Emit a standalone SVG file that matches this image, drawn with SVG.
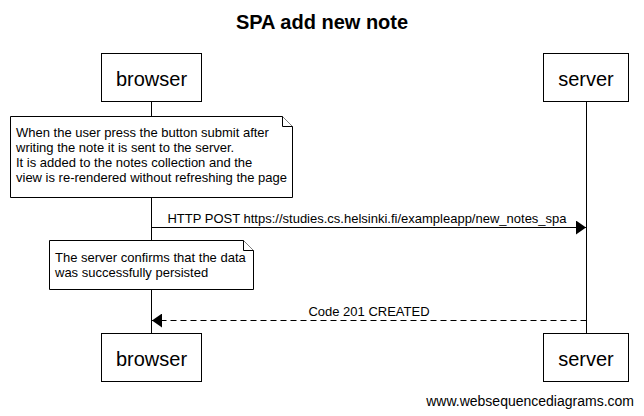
<svg xmlns="http://www.w3.org/2000/svg" width="644" height="416" viewBox="0 0 644 416">
<style>
.box{fill:#fff;stroke:#000;stroke-width:1}
.life{stroke:#000;stroke-width:1;fill:none}
.note{fill:#fff;stroke:#000;stroke-width:1}
.pt{font-family:"Liberation Sans",Arial,sans-serif;font-size:20px;text-anchor:middle;fill:#000}
.nt{font-family:"Liberation Sans",Arial,sans-serif;font-size:13px;fill:#000}
.ml{font-family:"Liberation Sans",Arial,sans-serif;font-size:13px;text-anchor:middle;fill:#000}
.msg{stroke:#000;stroke-width:1;fill:none}
.dash{stroke-dasharray:6 4}
</style>
<defs>
<marker id="ah" markerWidth="10" markerHeight="14" refX="10" refY="7" orient="auto" markerUnits="userSpaceOnUse">
<path d="M0,0 L10,7 L0,14 Z" fill="#000"/>
</marker>
</defs>
<rect width="644" height="416" fill="#fff"/>
<text x="322" y="29" font-family="'Liberation Sans',Arial,sans-serif" font-size="20" font-weight="bold" text-anchor="middle">SPA add new note</text>
<g id="lifelines">
<line class="life" x1="151.5" y1="101.5" x2="151.5" y2="333.5"/>
<line class="life" x1="586.5" y1="101.5" x2="586.5" y2="333.5"/>
</g>
<g id="browser-top">
<rect class="box" x="101.5" y="53.5" width="100" height="48"/>
<text class="pt" x="151.5" y="86">browser</text>
</g>
<g id="server-top">
<rect class="box" x="543.5" y="53.5" width="85" height="48"/>
<text class="pt" x="586" y="86">server</text>
</g>
<g id="note1">
<path class="note" d="M10.5,116.5 H282.5 L292.5,126.5 V197.5 H10.5 Z"/>
<path class="note" d="M282.5,116.5 V126.5 H292.5"/>
<text class="nt" x="16" y="137">When the user press the button submit after</text>
<text class="nt" x="16" y="152">writing the note it is sent to the server.</text>
<text class="nt" x="16" y="167">It is added to the notes collection and the</text>
<text class="nt" x="16" y="182">view is re-rendered without refreshing the page</text>
</g>
<g id="note2">
<path class="note" d="M49.5,240.5 H243.5 L253.5,250.5 V289.5 H49.5 Z"/>
<path class="note" d="M243.5,240.5 V250.5 H253.5"/>
<text class="nt" x="55" y="262">The server confirms that the data</text>
<text class="nt" x="55" y="277">was successfully persisted</text>
</g>
<g id="connectors">
<line class="msg" x1="151.5" y1="227.5" x2="586" y2="227.5" marker-end="url(#ah)"/>
<text class="ml" x="367" y="223">HTTP POST https://studies.cs.helsinki.fi/exampleapp/new_notes_spa</text>
<line class="msg dash" x1="586.5" y1="320.5" x2="152" y2="320.5" marker-end="url(#ah)"/>
<text class="ml" x="369" y="316">Code 201 CREATED</text>
</g>
<g id="browser-bottom">
<rect class="box" x="101.5" y="333.5" width="100" height="48"/>
<text class="pt" x="151.5" y="366">browser</text>
</g>
<g id="server-bottom">
<rect class="box" x="543.5" y="333.5" width="85" height="48"/>
<text class="pt" x="586" y="366">server</text>
</g>
<text x="634" y="406" font-family="'Liberation Sans',Arial,sans-serif" font-size="14" text-anchor="end">www.websequencediagrams.com</text>
</svg>
